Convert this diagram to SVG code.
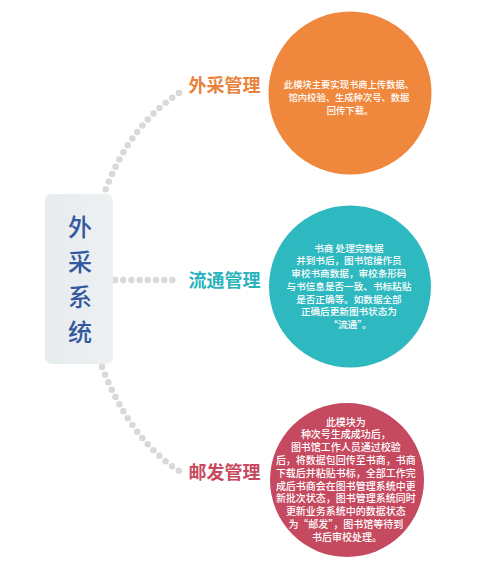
<svg xmlns="http://www.w3.org/2000/svg" width="477" height="570" viewBox="0 0 477 570">
<style>
.dots{fill:none;stroke:#d9d9d9;stroke-width:6.5;stroke-linecap:round;stroke-dasharray:0 8.2}
.lbl{font-family:"Noto Sans CJK SC","Noto Sans",sans-serif;font-size:18px;font-weight:600;text-anchor:middle}
.body{font-family:"Noto Sans CJK SC","Noto Sans",sans-serif;fill:#ffffff;text-anchor:middle;font-weight:500}
.main{font-family:"Noto Sans CJK SC","Noto Sans",sans-serif;font-size:24px;fill:#3358a0;text-anchor:middle;font-weight:500}
</style>
<defs>
<linearGradient id="boxg" x1="0" y1="0" x2="1" y2="0">
<stop offset="0" stop-color="#e6ebee"/>
<stop offset="1" stop-color="#eef1f2"/>
</linearGradient>
</defs>
<rect width="477" height="570" fill="#ffffff"/>
<g id="connectors">
<path class="dots" d="M179,93 Q130,125 105,191"/>
<path class="dots" d="M115,280 L178,280"/>
<path class="dots" d="M102,367 Q130,439 179,471"/>
</g>
<g id="center">
<rect x="45" y="194" width="68" height="170" rx="7" fill="url(#boxg)"/>
<text class="main" x="80" y="236">外</text>
<text class="main" x="80" y="271">采</text>
<text class="main" x="80" y="306">系</text>
<text class="main" x="80" y="341">统</text>
</g>
<g id="node-waicai">
<text class="lbl" x="224.5" y="92" fill="#e9823a">外采管理</text>
<circle cx="350" cy="93" r="81.5" fill="#ef873c"/>
<text class="body" font-size="9.3">
<tspan x="350" y="88">此模块主要实现书商上传数据、</tspan>
<tspan x="350" y="101">馆内校验、生成种次号、数据</tspan>
<tspan x="350" y="114">回传下载。</tspan>
</text>
</g>
<g id="node-liutong">
<text class="lbl" x="224.5" y="287" fill="#2bb3bd">流通管理</text>
<circle cx="350" cy="286.5" r="81" fill="#2eb8c0"/>
<text class="body" font-size="9.6">
<tspan x="350" y="251.5">书商 处理完数据</tspan>
<tspan x="350" y="264.2">并到书后，图书馆操作员</tspan>
<tspan x="350" y="277">审校书商数据，审校条形码</tspan>
<tspan x="350" y="289.7">与书信息是否一致、书标粘贴</tspan>
<tspan x="350" y="302.5">是否正确等。如数据全部</tspan>
<tspan x="350" y="315.2">正确后更新图书状态为</tspan>
<tspan x="350" y="328">“流通”。</tspan>
</text>
</g>
<g id="node-youfa">
<text class="lbl" x="224.5" y="479" fill="#c8485f">邮发管理</text>
<circle cx="347" cy="480" r="77" fill="#c5495f"/>
<text class="body" font-size="10">
<tspan x="347" y="425.5">此模块为</tspan>
<tspan x="347" y="438.3">种次号生成成功后，</tspan>
<tspan x="347" y="451.1">图书馆工作人员通过校验</tspan>
<tspan x="347" y="463.9">后，将数据包回传至书商，书商</tspan>
<tspan x="347" y="476.7">下载后并粘贴书标，全部工作完</tspan>
<tspan x="347" y="489.5">成后书商会在图书管理系统中更</tspan>
<tspan x="347" y="502.3">新批次状态，图书管理系统同时</tspan>
<tspan x="347" y="515.1">更新业务系统中的数据状态</tspan>
<tspan x="347" y="527.9">为“邮发”，图书馆等待到</tspan>
<tspan x="347" y="540.7">书后审校处理。</tspan>
</text>
</g>
</svg>
